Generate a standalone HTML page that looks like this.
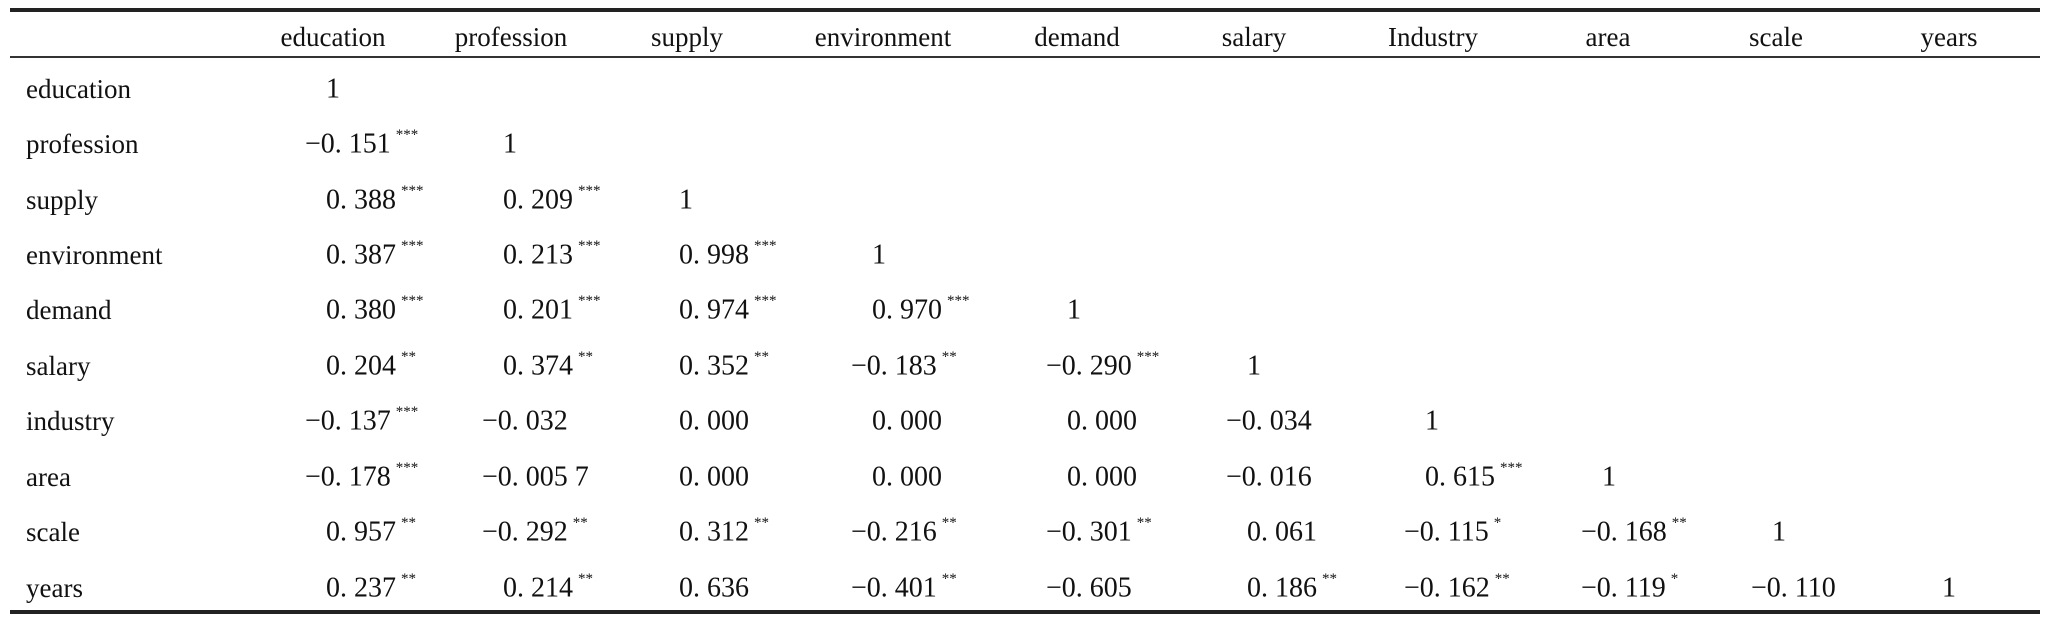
<!DOCTYPE html>
<html><head><meta charset="utf-8">
<style>
html,body{margin:0;padding:0;background:#fff;}
svg{display:block;}
text{font-family:"Liberation Serif","Noto Serif CJK SC",serif;fill:#111;}
</style></head>
<body>
<svg id="tbl" width="2048" height="624" viewBox="0 0 2048 624">
<line x1="10" y1="10" x2="2040" y2="10" stroke="#222" stroke-width="4"/>
<line x1="10" y1="57" x2="2040" y2="57" stroke="#333" stroke-width="2"/>
<line x1="10" y1="612" x2="2040" y2="612" stroke="#222" stroke-width="4"/>
</svg>
<script>
const colHeaders=["education","profession","supply","environment","demand","salary","Industry","area","scale","years"];
const rowLabels=["education","profession","supply","environment","demand","salary","industry","area","scale","years"];
const values=[
["1"],
["-0. 151","1"],
["0. 388","0. 209","1"],
["0. 387","0. 213","0. 998","1"],
["0. 380","0. 201","0. 974","0. 970","1"],
["0. 204","0. 374","0. 352","-0. 183","-0. 290","1"],
["-0. 137","-0. 032","0. 000","0. 000","0. 000","-0. 034","1"],
["-0. 178","-0. 005 7","0. 000","0. 000","0. 000","-0. 016","0. 615","1"],
["0. 957","-0. 292","0. 312","-0. 216","-0. 301","0. 061","-0. 115","-0. 168","1"],
["0. 237","0. 214","0. 636","-0. 401","-0. 605","0. 186","-0. 162","-0. 119","-0. 110","1"]
];
const stars=[
[""],
["***",""],
["***","***",""],
["***","***","***",""],
["***","***","***","***",""],
["**","**","**","**","***",""],
["***","","","","","",""],
["***","","","","","","***",""],
["**","**","**","**","**","","*","**",""],
["**","**","","**","","**","**","*","",""]
];
const svg=document.getElementById('tbl');
const NS="http://www.w3.org/2000/svg";
const headCX=[333,511,687,883,1077,1254,1433,1608,1776,1949];
const colX=[326,503,679,872,1067,1247,1425,1602,1772,1942];
const rowY=[89,144,200,255,310,366,421,477,532,588];
function t(x,y,s,size,anchor){const e=document.createElementNS(NS,'text');e.setAttribute('x',x);e.setAttribute('y',y);e.setAttribute('font-size',size);e.setAttribute('dominant-baseline','central');if(anchor)e.setAttribute('text-anchor',anchor);e.textContent=s;svg.appendChild(e);return e;}
colHeaders.forEach((h,i)=>{const e=t(headCX[i],37,h,27,'middle');

});
rowLabels.forEach((r,i)=>{const e=t(26,rowY[i],r,27);

});
values.forEach((row,i)=>{row.forEach((v,j)=>{
 const neg=v[0]==='-';const s=neg?'\u2212'+v.slice(1):v;
 const e=t(colX[j]-(neg?21:0),rowY[i],s,28);
 
 
 const st=stars[i][j];
 if(st){const ts=document.createElementNS(NS,'tspan');ts.setAttribute('font-size','15');ts.setAttribute('dy','-9');ts.setAttribute('dx','5');ts.textContent=st;e.appendChild(ts);}
});});
</script>
</body></html>
